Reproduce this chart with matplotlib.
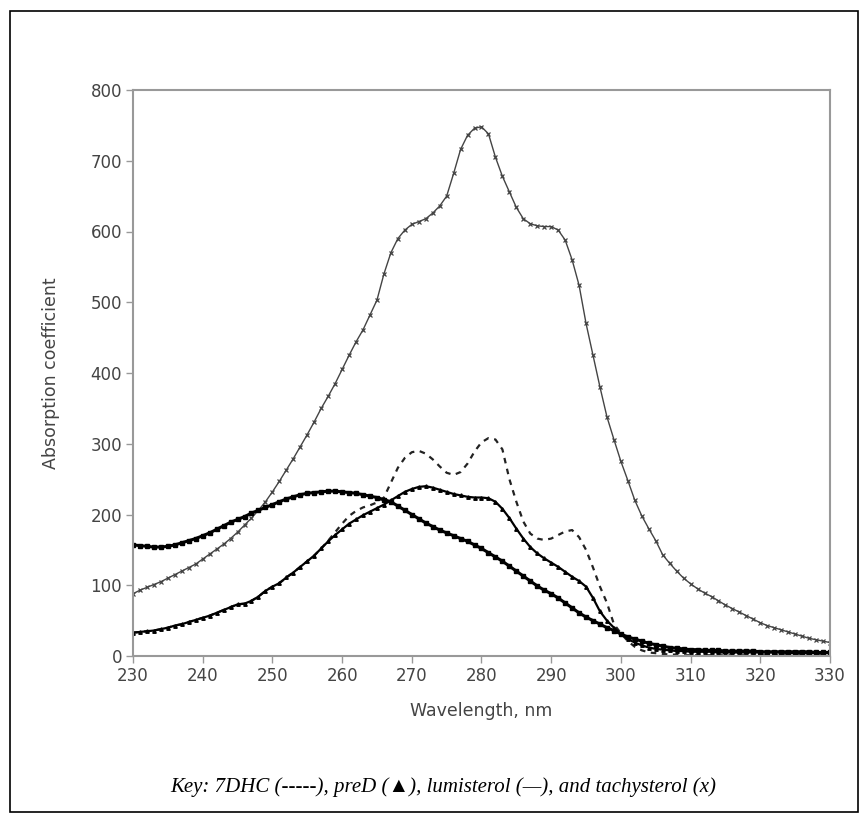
import matplotlib.pyplot as plt
from matplotlib.patches import Rectangle
import numpy as np

# wavelengths, 1 nm steps
wavelength = list(range(230, 331))

# tachysterol (x)
tachysterol = [
    88, 93, 97, 101, 105, 110, 115, 120, 125, 130,
    137, 144, 151, 158, 166, 175, 185, 195, 206, 218,
    232, 247, 263, 279, 296, 313, 331, 350, 367, 385,
    405, 425, 444, 461, 482, 503, 540, 570, 590, 602,
    610, 614, 618, 626, 636, 650, 682, 716, 736, 746,
    748, 738, 705, 678, 656, 634, 618, 611, 608, 607,
    607, 602, 588, 560, 524, 470, 425, 380, 338, 306,
    275, 248, 220, 198, 180, 163, 143, 131, 120, 110,
    102, 95, 89, 84, 78, 72, 67, 62, 57, 52,
    47, 43, 40, 37, 34, 31, 28, 25, 23, 21,
    19,
]

# lumisterol (-)
lumisterol = [
    157, 156, 155, 154, 154, 155, 157, 160, 163, 166,
    170, 174, 179, 184, 189, 193, 197, 202, 206, 210,
    214, 218, 222, 225, 228, 230, 231, 232, 233, 233,
    232, 231, 230, 228, 226, 224, 221, 218, 212, 206,
    200, 194, 188, 183, 178, 174, 170, 166, 162, 157,
    152, 146, 140, 134, 127, 120, 113, 106, 99, 93,
    88, 82, 75, 68, 61, 55, 50, 45, 40, 36,
    31, 27, 24, 21, 18, 16, 14, 12, 11, 10,
    9, 9, 8, 8, 8, 7, 7, 7, 7, 7,
    6, 6, 6, 6, 6, 6, 6, 6, 5, 5,
    5,
]

# preD (triangles)
preD = [
    33, 34, 35, 36, 38, 40, 43, 45, 48, 51,
    54, 57, 61, 65, 69, 73, 74, 78, 84, 92,
    98, 103, 111, 118, 126, 134, 142, 152, 162, 171,
    179, 187, 193, 199, 204, 209, 214, 220, 226, 232,
    236, 239, 240, 238, 235, 232, 229, 227, 225, 224,
    224, 223, 218, 208, 195, 180, 166, 154, 145, 138,
    132, 126, 119, 112, 106, 98, 82, 63, 50, 40,
    31, 24, 19, 15, 12, 10, 9, 8, 7, 7,
    6, 6, 6, 6, 5, 5, 5, 5, 5, 5,
    5, 5, 5, 5, 4, 4, 4, 4, 4, 4,
    4,
]

# 7DHC (dashed) - runs under preD below 258 nm
dhc = [
    33, 34, 35, 36, 38, 40, 43, 45, 48, 51,
    54, 57, 61, 65, 69, 73, 74, 78, 84, 92,
    98, 103, 111, 118, 126, 134, 142, 152, 163, 175,
    187, 198, 205, 210, 213, 217, 224, 245, 266, 280,
    288, 290, 286, 278, 268, 259, 256, 260, 272, 289,
    302, 308, 306, 292, 250, 218, 190, 173, 166, 164,
    166, 171, 176, 178, 168, 150, 125, 98, 75, 45,
    32, 21, 13, 8, 5, 4, 3, 2, 2, 1,
    1, 1, 1, 1, 1, 1, 1, 1, 1, 1,
    1, 1, 1, 1, 1, 1, 1, 1, 1, 1,
    1,
]

x_ticks = list(range(230, 331, 10))
y_ticks = list(range(0, 801, 100))

fig = plt.figure(figsize=(8.68, 8.19), dpi=100)
fig.patches.append(Rectangle((10 / 868, 1 - 812 / 819), 848 / 868, 801 / 819,
                             transform=fig.transFigure, fill=False,
                             edgecolor="black", linewidth=1.2))

ax = fig.add_axes([133 / 868, 1 - 656 / 819, 697 / 868, 566 / 819])

ax.plot(wavelength, dhc, color="#222222", linewidth=1.6, linestyle=(0, (2.5, 2.5)))
ax.plot(wavelength, tachysterol, color="#444444", linewidth=1.0,
        marker="x", markersize=3.5, markeredgewidth=0.9)
ax.plot(wavelength, lumisterol, color="black", linewidth=2.2,
        marker="s", markersize=2.2)
ax.plot(wavelength, preD, color="black", linewidth=1.6,
        marker="^", markersize=2.5)

ax.set_xlim(230, 330)
ax.set_ylim(0, 800)
ax.set_xticks(x_ticks)
ax.set_yticks(y_ticks)

for s in ax.spines.values():
    s.set_color("#999999")
    s.set_linewidth(1.5)
ax.tick_params(direction="out", length=5, width=1, color="#999999",
               labelcolor="#444444", labelsize=12, pad=3)
for lab in ax.get_xticklabels() + ax.get_yticklabels():
    lab.set_family("DejaVu Sans")

ax.set_xlabel("Wavelength, nm", family="DejaVu Sans", fontsize=12.5,
              color="#444444", labelpad=12)
ax.set_ylabel("Absorption coefficient", family="DejaVu Sans", fontsize=12.5,
              color="#444444", labelpad=22)

fig.text(443 / 868, 1 - 787 / 819,
         "Key: 7DHC (-----), preD (\u25B2), lumisterol (\u2014), and tachysterol (x)",
         ha="center", va="center", style="italic", fontsize=15,
         family=["Liberation Serif", "DejaVu Serif"], color="black")

plt.savefig("out.png", dpi=100)
plt.close()
